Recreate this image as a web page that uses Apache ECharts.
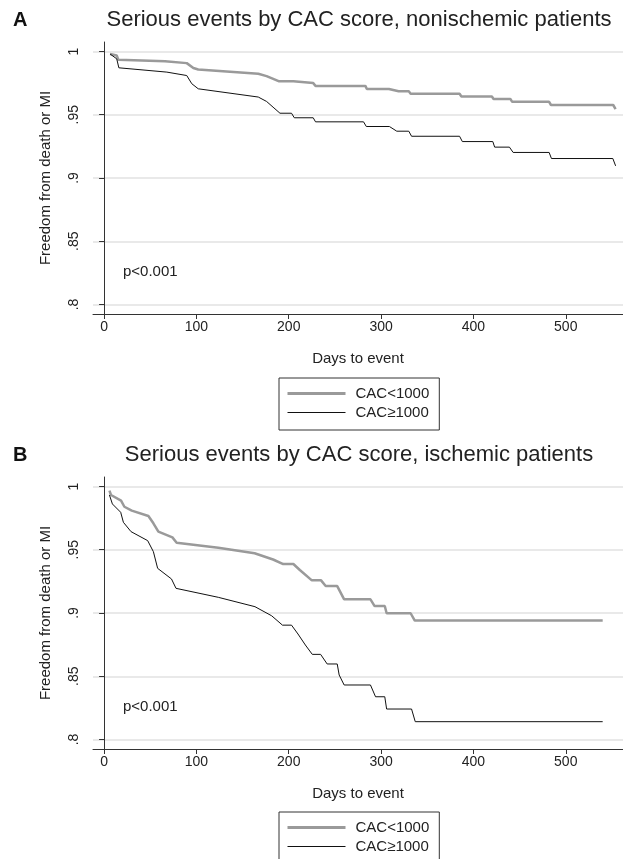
<!DOCTYPE html>
<html>
<head>
<meta charset="utf-8">
<script src="https://cdn.jsdelivr.net/npm/echarts@6/dist/echarts.min.js"></script>
<style>
  html, body { margin: 0; padding: 0; background: #fff; }
  #container { width: 623px; height: 859px; }
</style>
</head>
<body>
<div id="container"></div>
<script>
const chartIns = echarts.init(document.getElementById('container'), null, { renderer: 'canvas' });

const FONT = "'Liberation Sans', Arial, Helvetica, sans-serif";

// legend / series names
const seriesNames = ['CAC<1000', 'CAC\u22651000'];
const panelTitles = [
  'Serious events by CAC score, nonischemic patients',
  'Serious events by CAC score, ischemic patients'
];
const xTicks = [0, 100, 200, 300, 400, 500];
const yTicks = [0.8, 0.85, 0.9, 0.95, 1];

// panel A, nonischemic - CAC<1000
const aLowDays = [6.5, 13.7, 15.5, 66, 89.5, 96.7, 102, 167, 176, 189, 205, 207, 226.5, 229, 283, 284.6, 308.5, 319, 330, 332, 385, 387, 420, 421.8, 440, 442, 482, 484, 551.4, 554];
const aLowSurv = [0.998, 0.9968, 0.9934, 0.9923, 0.9908, 0.987, 0.9858, 0.9824, 0.9805, 0.9765, 0.9765, 0.975, 0.975, 0.9728, 0.9728, 0.9703, 0.9703, 0.9685, 0.9685, 0.9666, 0.9666, 0.9644, 0.9644, 0.9625, 0.9625, 0.9602, 0.9602, 0.9577, 0.9577, 0.9545];
// panel A, nonischemic - CAC>=1000
const aHighDays = [6.5, 13.7, 16, 68, 89.5, 95, 102, 167, 176, 183, 190.5, 203, 206, 226.5, 229, 281, 284, 309, 317, 330, 333, 385, 388, 421, 423, 439, 443, 482, 484.5, 551, 554];
const aHighSurv = [0.998, 0.9942, 0.9871, 0.9837, 0.981, 0.9745, 0.9705, 0.964, 0.9605, 0.956, 0.9512, 0.9512, 0.9476, 0.9476, 0.9444, 0.9444, 0.9407, 0.9407, 0.937, 0.937, 0.933, 0.933, 0.9288, 0.9288, 0.9244, 0.9244, 0.9202, 0.9202, 0.9154, 0.9154, 0.9096];

// panel B, ischemic - CAC<1000
const bLowDays = [5.8, 7.5, 18.4, 22, 30, 48, 53.4, 58.8, 74, 78.6, 123.7, 163, 183, 194, 205, 212, 225, 235, 240, 252.5, 260, 288.5, 293, 304, 306, 332, 336.5, 540];
const bLowSurv = [0.9967, 0.9933, 0.9888, 0.984, 0.9809, 0.9767, 0.9709, 0.9643, 0.9598, 0.9556, 0.9516, 0.9472, 0.9423, 0.9387, 0.9387, 0.934, 0.9258, 0.9258, 0.9213, 0.9213, 0.9108, 0.9108, 0.9055, 0.9055, 0.8998, 0.8998, 0.894, 0.894];
// panel B, ischemic - CAC>=1000
const bHighDays = [5.8, 9, 18, 20.9, 29.2, 47.2, 53.4, 58, 73, 77.9, 123.7, 163.4, 181.5, 193.2, 203, 210, 218, 225.5, 234.5, 241.6, 252.5, 254.6, 260, 288.5, 294, 304, 306, 333, 337, 540];
const bHighSurv = [0.9933, 0.9862, 0.9796, 0.9717, 0.9643, 0.9572, 0.9485, 0.9353, 0.9269, 0.9195, 0.9124, 0.905, 0.8978, 0.8904, 0.8904, 0.8834, 0.8747, 0.8673, 0.8673, 0.8597, 0.8597, 0.851, 0.8431, 0.8431, 0.8338, 0.8338, 0.8241, 0.8241, 0.8141, 0.8141];

const pairs = (days, surv) => days.map((d, i) => [d, surv[i]]);

const panelTop = [42, 477];
const GREY = '#9a9a9a';
const BLACK = '#111';
const lineWidths = [2.5, 1];
const lineColors = [GREY, BLACK];

const grids = panelTop.map(top => ({ left: 93, top: top, width: 530, height: 272, containLabel: false }));

const xAxes = panelTop.map((_, i) => ({
  type: 'value',
  gridIndex: i,
  min: -12,
  max: 562,
  name: 'Days to event',
  nameLocation: 'middle',
  nameGap: 37,
  nameTextStyle: { fontFamily: FONT, fontSize: 15, color: '#222' },
  axisLine: { show: true, lineStyle: { color: '#333', width: 1 } },
  axisTick: { show: true, length: 5, customValues: xTicks, lineStyle: { color: '#333' } },
  axisLabel: { customValues: xTicks, margin: 6, fontFamily: FONT, fontSize: 14, color: '#222' },
  splitLine: { show: false }
}));

const yAxes = panelTop.map((_, i) => ({
  type: 'value',
  gridIndex: i,
  min: 0.7925,
  max: 1.0075,
  name: 'Freedom from death or MI',
  nameLocation: 'middle',
  nameRotate: 90,
  nameGap: 40,
  nameTextStyle: { fontFamily: FONT, fontSize: 15, color: '#222' },
  axisLine: { show: true, lineStyle: { color: '#333', width: 1 } },
  axisTick: { show: true, length: 5, customValues: yTicks, lineStyle: { color: '#333' } },
  axisLabel: {
    customValues: yTicks,
    rotate: 90,
    margin: 12,
    fontFamily: FONT,
    fontSize: 14,
    color: '#222',
    formatter: v => {
      const s = String(Number(v.toFixed(2)));
      return s.replace(/^0\./, '.');
    }
  },
  splitLine: { show: true, lineStyle: { color: '#e9e9e9', width: 2 } }
}));

const mkLine = (k, idx, data) => ({
  name: seriesNames[k],
  type: 'line',
  xAxisIndex: idx,
  yAxisIndex: idx,
  data: data,
  showSymbol: false,
  symbol: 'none',
  lineStyle: { color: lineColors[k], width: lineWidths[k] },
  itemStyle: { color: lineColors[k] },
  emphasis: { disabled: true },
  animation: false
});

const series = [
  mkLine(0, 0, pairs(aLowDays, aLowSurv)),
  mkLine(1, 0, pairs(aHighDays, aHighSurv)),
  mkLine(0, 1, pairs(bLowDays, bLowSurv)),
  mkLine(1, 1, pairs(bHighDays, bHighSurv))
];

const legends = [378, 812].map(top => ({
  data: seriesNames.map((n, k) => ({
    name: n,
    itemStyle: { opacity: 0 },
    lineStyle: { color: lineColors[k], width: k === 0 ? 3 : 1 }
  })),
  orient: 'vertical',
  left: 279,
  top: top,
  width: 160,
  height: 80,
  padding: [8, 10, 10, 7],
  itemWidth: 58,
  itemHeight: 14,
  itemGap: 4,
  borderColor: '#333',
  borderWidth: 1,
  selectedMode: false,
  textStyle: { fontFamily: FONT, fontSize: 15, color: '#222', padding: [0, 0, 0, 5] }
}));

const titles = [];
panelTitles.forEach((t, i) => {
  titles.push({
    text: t,
    left: 359,
    top: panelTop[i] - 33,
    textAlign: 'center',
    padding: 0,
    textStyle: { fontFamily: FONT, fontSize: 22, fontWeight: 'normal', color: '#222' }
  });
});
['A', 'B'].forEach((t, i) => {
  titles.push({
    text: t,
    left: 13,
    top: panelTop[i] - 32,
    padding: 0,
    textStyle: { fontFamily: FONT, fontSize: 20, fontWeight: 'bold', color: '#111' }
  });
});

const pTexts = [264, 699].map(top => ({
  type: 'text',
  left: 123,
  top: top,
  style: { text: 'p<0.001', font: '15px ' + FONT, fill: '#222' }
}));

chartIns.setOption({
  backgroundColor: '#fff',
  animation: false,
  title: titles,
  grid: grids,
  xAxis: xAxes,
  yAxis: yAxes,
  legend: legends,
  graphic: pTexts,
  series: series
});
</script>
</body>
</html>
